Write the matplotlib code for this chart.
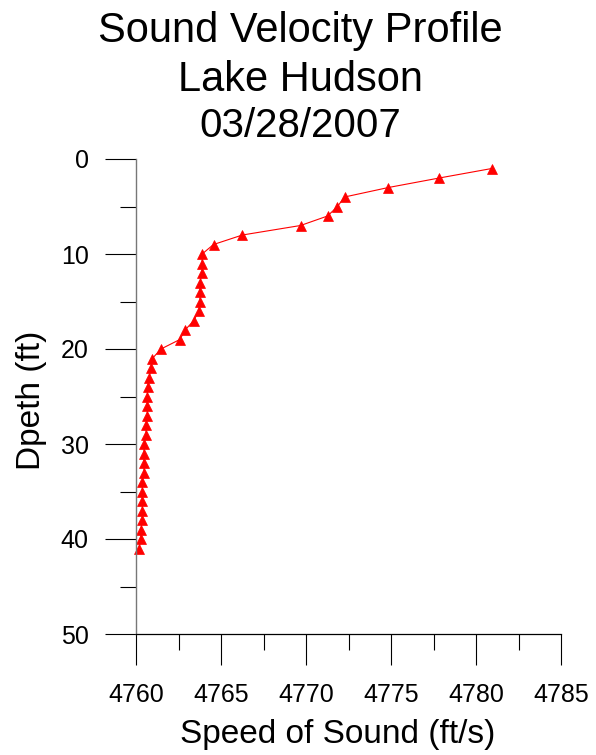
import matplotlib.pyplot as plt
from matplotlib.ticker import MultipleLocator

plt.rcParams['font.family'] = ['Liberation Sans', 'DejaVu Sans']

depth = list(range(1, 42))
speed = [4780.93, 4777.84, 4774.85, 4772.27, 4771.85, 4771.27, 4769.68, 4766.26,
         4764.56, 4763.89, 4763.89, 4763.89, 4763.76, 4763.76, 4763.76, 4763.70,
         4763.40, 4762.89, 4762.58, 4761.47, 4760.96, 4760.88, 4760.78, 4760.68,
         4760.66, 4760.66, 4760.66, 4760.59, 4760.59, 4760.47, 4760.47, 4760.47,
         4760.47, 4760.37, 4760.37, 4760.37, 4760.37, 4760.37, 4760.29, 4760.29,
         4760.18]

title_lines = ['Sound Velocity Profile', 'Lake Hudson', '03/28/2007']

fig = plt.figure(figsize=(5.96, 7.55), dpi=100)
ax = fig.add_axes([136 / 596, 1 - 634 / 755, 425 / 596, 475 / 755])

ax.plot(speed, depth, color='red', lw=0.8, marker='^', ms=6.5,
        markeredgewidth=0.5, clip_on=False)

ax.set_xlim(4760, 4785)
ax.set_ylim(50, 0)
ax.xaxis.set_major_locator(MultipleLocator(5))
ax.xaxis.set_minor_locator(MultipleLocator(2.5))
ax.yaxis.set_major_locator(MultipleLocator(10))
ax.yaxis.set_minor_locator(MultipleLocator(5))

for s in ['top', 'right']:
    ax.spines[s].set_visible(False)
ax.spines['left'].set_color('#777777')
ax.spines['bottom'].set_color('black')
ax.spines['left'].set_linewidth(1.0)
ax.spines['bottom'].set_linewidth(0.9)

ax.tick_params(axis='both', which='major', direction='out', length=22.5,
               width=0.8, labelsize=18)
ax.tick_params(axis='both', which='minor', direction='out', length=11.5, width=0.8)
ax.tick_params(axis='y', which='major', pad=11.5)
ax.tick_params(axis='x', which='major', pad=13)

fig.text(40 / 596, 1 - 400 / 755, 'Dpeth (ft)', rotation=90, rotation_mode='anchor',
         ha='center', va='baseline', fontsize=24)
fig.text(337.5 / 596, 1 - 742.5 / 755, 'Speed of Sound (ft/s)', ha='center',
         va='baseline', fontsize=24)

for txt, yb, fs in zip(title_lines, [41.7, 90.7, 136.7], [30, 30, 29]):
    fig.text(300 / 596, 1 - yb / 755, txt, ha='center', va='baseline', fontsize=fs)

fig.savefig('out.png', dpi=100)
